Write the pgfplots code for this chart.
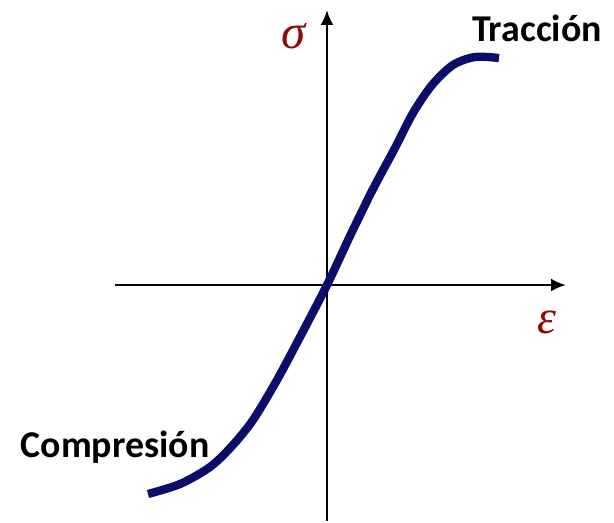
\documentclass[border=0pt]{standalone}
\usepackage{fontspec}
\setmainfont{Carlito}
\newfontfamily\serifit{Liberation Serif}
\usepackage{pgfplots}
\pgfplotsset{compat=1.18}
\usetikzlibrary{arrows.meta}
\definecolor{curvecol}{RGB}{12,12,105}
\definecolor{lblred}{RGB}{140,10,10}
\begin{document}
\begin{tikzpicture}
\begin{axis}[
  scale only axis, width=614bp, height=522bp,
  xmin=0, xmax=614, ymin=0, ymax=522, y dir=reverse,
  hide axis, clip=false]
\path[draw=none] (axis cs:0,0) rectangle (axis cs:614,522);
% axes
\addplot[black, line width=2.6bp, -{Latex[length=15bp,width=13bp]}] coordinates {(115,285) (566,285)};
\addplot[black, line width=2.6bp, -{Latex[length=15bp,width=13bp]}] coordinates {(327,521) (327,10)};
% curve
\addplot[curvecol, line width=8.3bp, smooth, tension=0.5] coordinates {
(148,494) (180,484) (210,467) (232,446) (253,420) (277,380) (300,337) (327,285)
(350,236) (373,189) (395,148) (413,113) (432,85) (453,65) (475,57) (499,58)};
\node[text=lblred, font=\fontsize{49}{52}\selectfont\serifit\itshape] at (axis cs:294,36) {σ};
\node[text=lblred, font=\fontsize{48}{52}\selectfont\serifit\itshape] at (axis cs:547,322) {ε};
\node[font=\fontsize{38}{42}\selectfont\bfseries, anchor=center] at (axis cs:537,28) {Tracción};
\node[font=\fontsize{38}{42}\selectfont\bfseries, anchor=center] at (axis cs:115,447) {Compresión};
\end{axis}
\end{tikzpicture}
\end{document}
